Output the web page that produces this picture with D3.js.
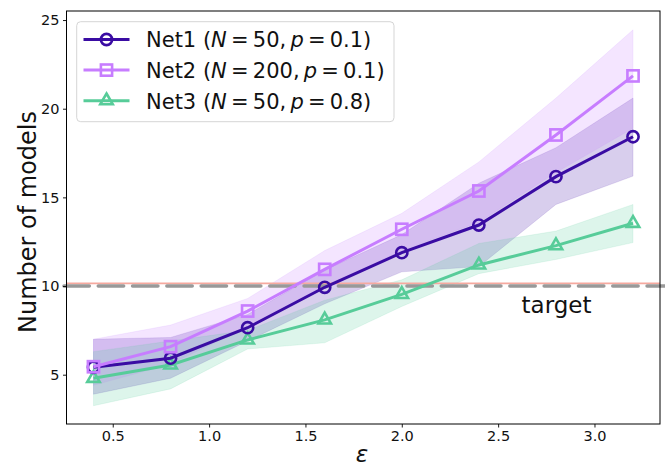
<!DOCTYPE html>
<html>
<head>
<meta charset="utf-8">
<script src="https://cdn.jsdelivr.net/npm/d3@7"></script>
<style>
  html, body { margin: 0; padding: 0; background: #fff; }
  svg { display: block; font-family: "DejaVu Sans", sans-serif; }
</style>
</head>
<body>
<svg id="chart" width="665" height="470"></svg>
<script>
// Privacy budget values on the x axis
const eps = [0.4, 0.8, 1.2, 1.6, 2.0, 2.4, 2.8, 3.2];

// Net1 (N = 50, p = 0.1): mean and spread
const net1Mean = [5.42, 5.93, 7.65, 9.93, 11.88, 13.44, 16.17, 18.42];
const net1Low  = [3.9, 4.8, 6.9, 9.0, 10.8, 11.1, 14.6, 16.2];
const net1High = [7.0, 7.1, 8.4, 10.9, 12.9, 15.8, 17.8, 20.6];

// Net2 (N = 200, p = 0.1)
const net2Mean = [5.45, 6.58, 8.59, 10.94, 13.2, 15.36, 18.52, 21.85];
const net2Low  = [4.4, 5.6, 7.7, 9.9, 12.0, 13.6, 16.4, 18.9];
const net2High = [7.0, 7.8, 9.3, 12.0, 14.1, 17.0, 20.6, 24.45];

// Net3 (N = 50, p = 0.8)
const net3Mean = [4.8, 5.55, 6.96, 8.09, 9.53, 11.19, 12.28, 13.54];
const net3Low  = [3.25, 4.2, 6.45, 6.8, 8.85, 10.7, 11.5, 12.45];
const net3High = [6.3, 6.9, 7.5, 9.2, 10.35, 12.4, 13.1, 14.6];

const targetValue = 10;
const xTicks = [0.5, 1.0, 1.5, 2.0, 2.5, 3.0];
const yTicks = [5, 10, 15, 20, 25];

const series = [
  { name: "Net1", N: "50",  p: "0.1", mean: net1Mean, low: net1Low, high: net1High, color: "#3a0ca3", marker: "circle" },
  { name: "Net2", N: "200", p: "0.1", mean: net2Mean, low: net2Low, high: net2High, color: "#c77dff", marker: "square" },
  { name: "Net3", N: "50",  p: "0.8", mean: net3Mean, low: net3Low, high: net3High, color: "#57cc99", marker: "triangle" }
];

const svg = d3.select("#chart");
const plot = { left: 66.5, right: 660, top: 11, bottom: 424 };

const x = d3.scaleLinear().domain([0.26, 3.34]).range([plot.left, plot.right]);
const y = d3.scaleLinear().domain([2.22, 25.51]).range([plot.bottom, plot.top]);

svg.append("defs").append("clipPath").attr("id", "plot-clip")
  .append("rect")
  .attr("x", plot.left).attr("y", plot.top)
  .attr("width", plot.right - plot.left).attr("height", plot.bottom - plot.top);

// Shaded spread bands
const area = d3.area()
  .x((d, i) => x(eps[i]))
  .y0(d => y(d[0]))
  .y1(d => y(d[1]));

const bands = svg.append("g").attr("clip-path", "url(#plot-clip)");
series.forEach(s => {
  bands.append("path")
    .datum(eps.map((e, i) => [s.low[i], s.high[i]]))
    .attr("d", area)
    .attr("fill", s.color)
    .attr("fill-opacity", 0.2)
    .attr("stroke", s.color)
    .attr("stroke-opacity", 0.15)
    .attr("stroke-width", 0.8);
});

// Target reference lines
svg.append("line")
  .attr("x1", plot.left).attr("x2", plot.right)
  .attr("y1", y(targetValue) - 2.7).attr("y2", y(targetValue) - 2.7)
  .attr("stroke", "#f6a99f").attr("stroke-width", 1.6);

svg.append("line")
  .attr("x1", x(0.26) - 2.5).attr("x2", 666)
  .attr("y1", y(targetValue)).attr("y2", y(targetValue))
  .attr("stroke", "#999999").attr("stroke-width", 3.6)
  .attr("stroke-linecap", "round")
  .attr("stroke-dasharray", "25.3 9");

svg.append("text")
  .attr("x", 556.5).attr("y", 312.5)
  .attr("text-anchor", "middle")
  .attr("font-size", 23)
  .attr("fill", "#111")
  .text("target");

// Mean lines with hollow markers
const line = d3.line().x((d, i) => x(eps[i])).y(d => y(d));

function drawMarker(g, kind, cx, cy, color) {
  if (kind === "circle") {
    g.append("circle").attr("cx", cx).attr("cy", cy).attr("r", 5.6)
      .attr("fill", "none").attr("stroke", color).attr("stroke-width", 2.6);
  } else if (kind === "square") {
    g.append("rect").attr("x", cx - 5.6).attr("y", cy - 5.6)
      .attr("width", 11.2).attr("height", 11.2)
      .attr("fill", "none").attr("stroke", color).attr("stroke-width", 2.6);
  } else {
    const r = 7.2;
    const pts = [[cx, cy - r], [cx + r * 0.866, cy + r * 0.5], [cx - r * 0.866, cy + r * 0.5]];
    g.append("polygon").attr("points", pts.map(p => p.join(",")).join(" "))
      .attr("fill", "none").attr("stroke", color).attr("stroke-width", 2.6)
      .attr("stroke-linejoin", "miter");
  }
}

const lines = svg.append("g");
[series[2], series[0], series[1]].forEach(s => {
  const g = lines.append("g");
  g.append("path")
    .datum(s.mean)
    .attr("d", line)
    .attr("fill", "none")
    .attr("stroke", s.color)
    .attr("stroke-width", 3);
  s.mean.forEach((v, i) => drawMarker(g, s.marker, x(eps[i]), y(v), s.color));
});

// Axes frame
svg.append("rect")
  .attr("x", plot.left).attr("y", plot.top)
  .attr("width", plot.right - plot.left).attr("height", plot.bottom - plot.top)
  .attr("fill", "none").attr("stroke", "#000").attr("stroke-width", 1);

const xAxis = svg.append("g")
  .attr("transform", `translate(0,${plot.bottom})`)
  .call(d3.axisBottom(x).tickValues(xTicks).tickFormat(d3.format(".1f")).tickSizeOuter(0).tickSize(3.5).tickPadding(3.5));
const yAxis = svg.append("g")
  .attr("transform", `translate(${plot.left},0)`)
  .call(d3.axisLeft(y).tickValues(yTicks).tickFormat(d3.format("d")).tickSizeOuter(0).tickSize(3.5).tickPadding(3.5));

[xAxis, yAxis].forEach(a => {
  a.select(".domain").remove();
  a.selectAll("text").attr("font-size", 14.5).attr("font-family", "DejaVu Sans").attr("fill", "#111");
  a.selectAll("line").attr("stroke", "#000").attr("stroke-width", 0.9);
});

// Axis titles
svg.append("text")
  .attr("x", 362).attr("y", 462)
  .attr("text-anchor", "middle")
  .attr("font-size", 23)
  .attr("font-style", "italic")
  .attr("fill", "#111")
  .text("ε");

svg.append("text")
  .attr("transform", "translate(36,222) rotate(-90)")
  .attr("text-anchor", "middle")
  .attr("font-size", 24)
  .attr("fill", "#111")
  .text("Number of models");

// Legend
const legend = svg.append("g");
legend.append("rect")
  .attr("x", 76.7).attr("y", 21.7)
  .attr("width", 317.3).attr("height", 100)
  .attr("rx", 4).attr("ry", 4)
  .attr("fill", "#fff").attr("fill-opacity", 0.8)
  .attr("stroke", "#d5d5d5").attr("stroke-width", 1);

const thin = "\u2009";
series.forEach((s, i) => {
  const cy = 39.5 + i * 30.6;
  const g = legend.append("g");
  g.append("line")
    .attr("x1", 83.5).attr("x2", 129.5)
    .attr("y1", cy).attr("y2", cy)
    .attr("stroke", s.color).attr("stroke-width", 3);
  drawMarker(g, s.marker, 106.5, cy, s.color);
  const t = g.append("text")
    .attr("x", 146).attr("y", cy + 7.8)
    .attr("font-size", 21)
    .attr("fill", "#111");
  t.append("tspan").text(`${s.name} (`);
  t.append("tspan").attr("font-style", "italic").text("N");
  t.append("tspan").text(`${thin}=${thin}${s.N},${thin}`);
  t.append("tspan").attr("font-style", "italic").text("p");
  t.append("tspan").text(`${thin}=${thin}${s.p})`);
});
</script>
</body>
</html>
